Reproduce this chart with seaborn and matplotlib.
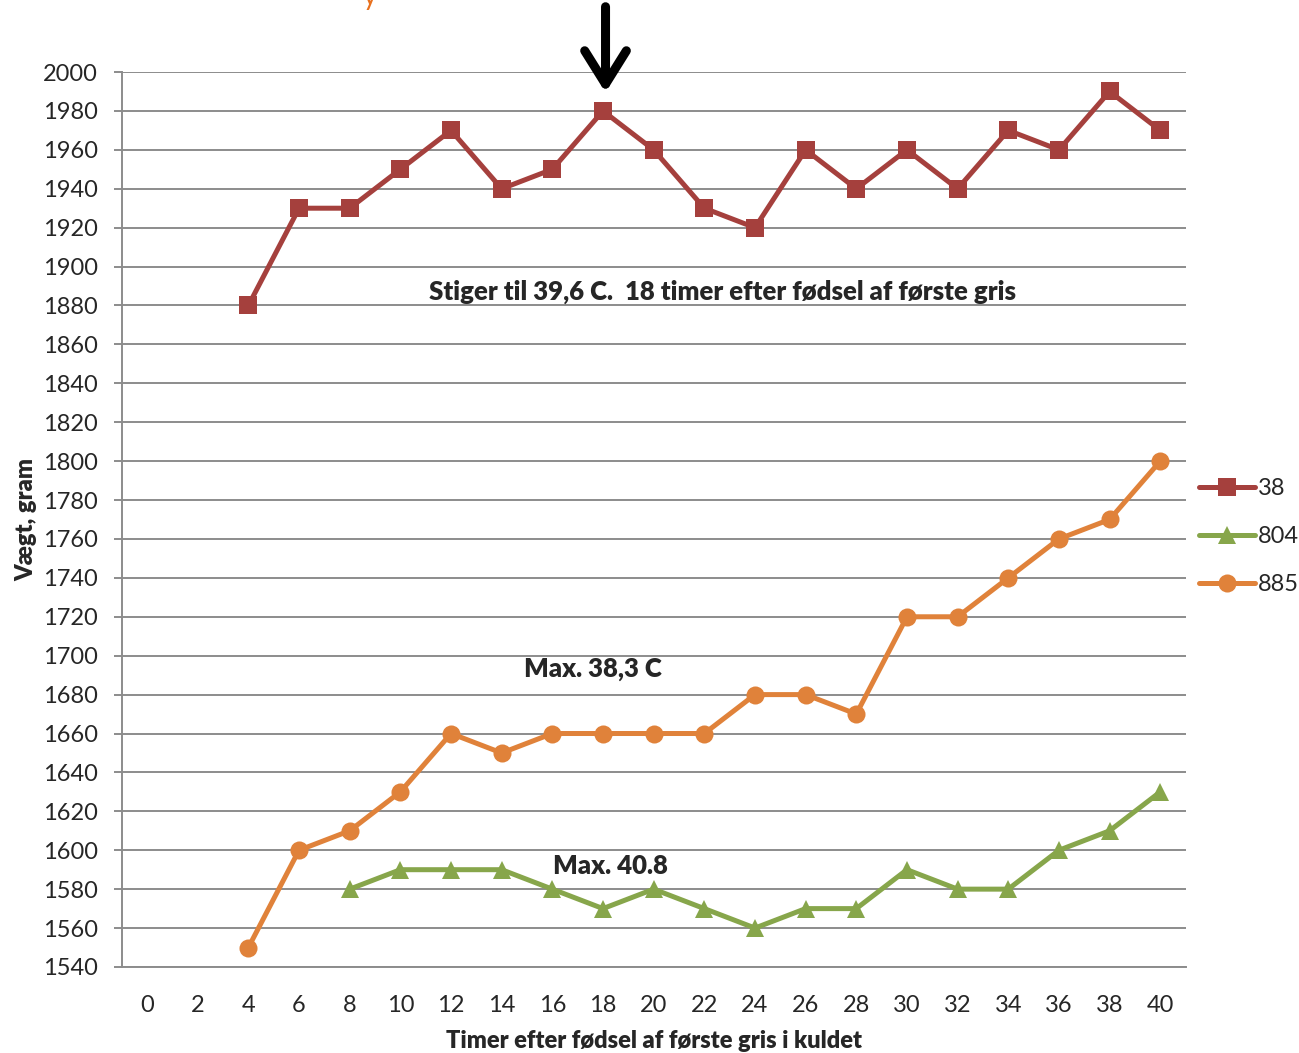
import numpy as np
import pandas as pd
import matplotlib
matplotlib.use("Agg")
import matplotlib.pyplot as plt
import seaborn as sns

# data
hours = list(range(0, 41, 2))
hours_38 = list(range(4, 41, 2))
weight_38 = [1880, 1930, 1930, 1950, 1970, 1940, 1950, 1980, 1960, 1930,
             1920, 1960, 1940, 1960, 1940, 1970, 1960, 1990, 1970]
hours_804 = list(range(8, 41, 2))
weight_804 = [1580, 1590, 1590, 1590, 1580, 1570, 1580, 1570, 1560, 1570,
              1570, 1590, 1580, 1580, 1600, 1610, 1630]
hours_885 = list(range(4, 41, 2))
weight_885 = [1550, 1600, 1610, 1630, 1660, 1650, 1660, 1660, 1660, 1660,
              1680, 1680, 1670, 1720, 1720, 1740, 1760, 1770, 1800]
y_ticks = list(range(1540, 2001, 20))

sns.set_theme(style="white")
plt.rcParams['font.family'] = ['Lato', 'DejaVu Sans']

df = pd.concat([
    pd.DataFrame({'hour': hours_38, 'weight': weight_38, 'pig': '38'}),
    pd.DataFrame({'hour': hours_804, 'weight': weight_804, 'pig': '804'}),
    pd.DataFrame({'hour': hours_885, 'weight': weight_885, 'pig': '885'}),
])

colors = {'38': '#A5403D', '804': '#87A64B', '885': '#E0823A'}
markers = {'38': 's', '804': '^', '885': 'o'}

fig = plt.figure(figsize=(12.99, 10.53), dpi=100)
ax = fig.add_axes([0.0937, 0.0817, 0.819, 0.8499])

sns.lineplot(data=df, x='hour', y='weight', hue='pig', style='pig',
             palette=colors, markers=markers, dashes=False, linewidth=3.6,
             markersize=13, markeredgewidth=0, ax=ax, zorder=3)

ax.set_xlim(-1, 41)
ax.set_ylim(1540, 2000)
ax.set_xticks(hours)
ax.set_xticklabels([str(h) for h in hours])
ax.set_yticks(y_ticks)
ax.yaxis.grid(True, color='#8C8C8C', linewidth=1.4)
ax.set_axisbelow(True)
for s in ['top', 'right']:
    ax.spines[s].set_visible(False)
for s in ['left', 'bottom']:
    ax.spines[s].set_color('#8C8C8C')
    ax.spines[s].set_linewidth(1.4)
ax.tick_params(axis='y', left=True, length=6, width=1.4, color='#8C8C8C',
               labelsize=17, pad=11)
ax.tick_params(axis='x', bottom=False, labelsize=17, pad=14)

ax.set_xlabel('Timer efter fødsel af første gris i kuldet', fontsize=17,
              fontweight='heavy', labelpad=10)
ax.set_ylabel('Vægt, gram', fontsize=17, fontweight='heavy', labelpad=4)

ax.text(22.7, 1887, 'Stiger til 39,6 C.  18 timer efter fødsel af første gris',
        fontsize=18.5, fontweight='heavy', ha='center', va='center', zorder=4)
ax.text(17.6, 1693, 'Max. 38,3 C', fontsize=18.5, fontweight='heavy',
        ha='center', va='center', zorder=4)
ax.text(18.3, 1592, 'Max. 40.8', fontsize=18.5, fontweight='heavy',
        ha='center', va='center', zorder=4)

# arrow pointing at hour 18
ax.annotate('', xy=(18.1, 1988), xytext=(18.1, 2035),
            arrowprops=dict(arrowstyle='->,head_length=2.0,head_width=1.25',
                            color='black', lw=6.5),
            annotation_clip=False)

# clipped orange text at the top edge
fig.text(0.285, 1.003, 'y', color='#E8711F', fontsize=20, ha='center', va='center')

handles, labels = ax.get_legend_handles_labels()
ax.legend(handles, labels, loc='center left', bbox_to_anchor=(0.999, 0.481),
          frameon=False, fontsize=17, handlelength=2.4, handletextpad=0.1,
          labelspacing=1.15, borderaxespad=0.2)

fig.savefig('out.png', dpi=100)
